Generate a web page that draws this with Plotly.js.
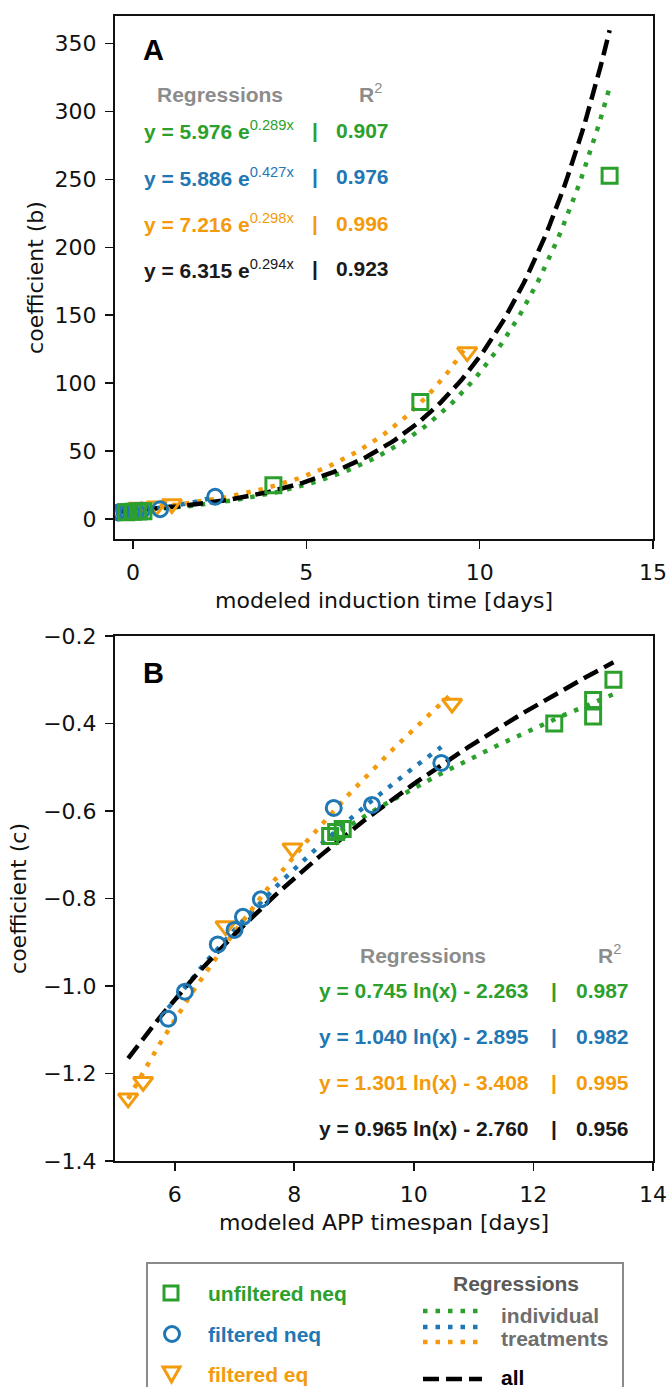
<!DOCTYPE html>
<html><head><meta charset="utf-8">
<script src="https://cdn.plot.ly/plotly-3.0.1.min.js"></script>
<style>html,body{margin:0;padding:0;background:#fff}</style>
</head><body><div id="chart" style="width:671px;height:1387px"></div>
<script>
// ---------- data ----------
const seriesNames = ['unfiltered neq', 'filtered neq', 'filtered eq'];
const seriesColors = ['#2ca02c', '#1f77b4', '#f39b0c'];
const allColor = '#1a1a1a';

// Panel A: coefficient (b) vs modeled induction time [days]
const A_unfiltNeq_x = [-0.2, 0.0, 0.15, 0.3, 4.05, 8.29, 13.75];
const A_unfiltNeq_y = [5.0, 5.3, 5.5, 5.7, 24.8, 86.1, 252.7];
const A_filtNeq_x = [-0.42, -0.35, -0.25, -0.15, -0.05, 0.1, 0.25, 0.78, 2.37];
const A_filtNeq_y = [4.8, 5.0, 5.1, 5.3, 5.5, 5.9, 6.2, 7.2, 16.4];
const A_filtEq_x = [-0.3, 0.15, 0.68, 1.12, 9.64];
const A_filtEq_y = [6.5, 8.5, 9.5, 11.0, 122.9];

// Panel B: coefficient (c) vs modeled APP timespan [days]
const B_unfiltNeq_x = [8.6, 8.7, 8.81, 12.35, 13.0, 13.0, 13.34];
const B_unfiltNeq_y = [-0.657, -0.648, -0.641, -0.400, -0.384, -0.346, -0.300];
const B_filtNeq_x = [5.89, 6.17, 6.72, 7.0, 7.14, 7.44, 8.66, 9.30, 10.46];
const B_filtNeq_y = [-1.075, -1.013, -0.905, -0.872, -0.842, -0.802, -0.593, -0.586, -0.490];
const B_filtEq_x = [5.22, 5.47, 6.85, 7.97, 10.64];
const B_filtEq_y = [-1.257, -1.219, -0.863, -0.685, -0.354];

// Regressions (unfiltered neq, filtered neq, filtered eq, all)
const A_fit_a = [5.976, 5.886, 7.216, 6.315];   // y = a e^(b x)
const A_fit_b = [0.289, 0.427, 0.298, 0.294];
const A_fit_r2 = ['0.907', '0.976', '0.996', '0.923'];
const B_fit_a = [0.745, 1.040, 1.301, 0.965];   // y = a ln(x) + b
const B_fit_b = [-2.263, -2.895, -3.408, -2.760];
const B_fit_r2 = ['0.987', '0.982', '0.995', '0.956'];

// Axis ticks
const A_xticks = [0, 5, 10, 15];
const A_yticks = [0, 50, 100, 150, 200, 250, 300, 350];
const B_xticks = [6, 8, 10, 12, 14];
const B_yticks = [-1.4, -1.2, -1.0, -0.8, -0.6, -0.4, -0.2];
const B_yticktext = ['\u22121.4', '\u22121.2', '\u22121.0', '\u22120.8', '\u22120.6', '\u22120.4', '\u22120.2'];

// ---------- build ----------
const W = 671, H = 1387, ML = 115, MR = 18;
const px = x => (x - ML) / (W - ML - MR);
const py = y => 1 - y / H;

const A_sets = [[A_unfiltNeq_x, A_unfiltNeq_y], [A_filtNeq_x, A_filtNeq_y], [A_filtEq_x, A_filtEq_y]];
const B_sets = [[B_unfiltNeq_x, B_unfiltNeq_y], [B_filtNeq_x, B_filtNeq_y], [B_filtEq_x, B_filtEq_y]];
const symbols = ['square-open', 'circle-open', 'triangle-down-open'];
const sizes = [15, 15, 17];

function grid(lo, hi, n) { const o = []; for (let i = 0; i <= n; i++) o.push(lo + (hi - lo) * i / n); return o; }
const expModel = (a, b) => x => a * Math.exp(b * x);
const lnModel = (a, b) => x => a * Math.log(x) + b;

const DOT = '4.5px,8px', DASH = '16px,7px';
const traces = [];
function addPanel(sets, fa, fb, model, xa, ya) {
  let allx = [];
  sets.forEach(s => allx = allx.concat(s[0]));
  // dotted individual regressions
  sets.forEach((s, i) => {
    const xs = grid(Math.min(...s[0]), Math.max(...s[0]), 120);
    const f = model(fa[i], fb[i]);
    traces.push({x: xs, y: xs.map(f), xaxis: xa, yaxis: ya, mode: 'lines', showlegend: false, hoverinfo: 'skip',
      line: {color: seriesColors[i], width: 4.5, dash: DOT}});
  });
  // dashed overall regression
  const xs = grid(Math.min(...allx), Math.max(...allx), 160);
  const f = model(fa[3], fb[3]);
  traces.push({x: xs, y: xs.map(f), xaxis: xa, yaxis: ya, mode: 'lines', showlegend: false, hoverinfo: 'skip',
    line: {color: '#000', width: 4.5, dash: DASH}});
  // markers (filtered eq underneath, unfiltered neq on top)
  [2, 1, 0].forEach(i => {
    const s = sets[i];
    traces.push({x: s[0], y: s[1], xaxis: xa, yaxis: ya, mode: 'markers', name: seriesNames[i], showlegend: false,
      marker: {symbol: symbols[i], size: sizes[i], color: seriesColors[i], line: {width: 3, color: seriesColors[i]}}});
  });
}
addPanel(A_sets, A_fit_a, A_fit_b, expModel, 'x', 'y');
addPanel(B_sets, B_fit_a, B_fit_b, lnModel, 'x2', 'y2');

const tickFont = {family: 'DejaVu Sans', size: 22, color: '#111'};
const axBase = {showgrid: false, zeroline: false, showline: true, mirror: true, linecolor: '#111', linewidth: 2,
  ticks: 'outside', ticklen: 8, tickwidth: 1.6, tickcolor: '#111', tickfont: tickFont, tickmode: 'array'};

const ann = [];
const bold = 'Liberation Sans';
function txt(text, x, y, color, size, xanchor) {
  ann.push({text: text, x: px(x), y: py(y), xref: 'paper', yref: 'paper', showarrow: false,
    xanchor: xanchor || 'center', yanchor: 'middle', font: {family: bold, size: size || 21, color: color}});
}
const rowColors = seriesColors.concat([allColor]);
const gray = '#8c8c8c';
// Panel A text
txt('<b>A</b>', 153, 50, '#000', 29);
txt('<b>Regressions</b>', 220, 94, gray);
txt('<b>R</b><sup>2</sup>', 370, 93, gray);
const A_rows = [130, 177, 223, 269];
for (let i = 0; i < 4; i++) {
  txt('<b>y = ' + A_fit_a[i].toFixed(3) + ' e</b><sup>' + A_fit_b[i].toFixed(3) + 'x</sup>', 142, A_rows[i], rowColors[i], 21, 'left');
  txt('<b>|</b>', 315, A_rows[i], rowColors[i]);
  txt('<b>' + A_fit_r2[i] + '</b>', 362, A_rows[i], rowColors[i]);
}
// Panel B text
txt('<b>B</b>', 153, 673, '#000', 29);
txt('<b>Regressions</b>', 423, 955, gray);
txt('<b>R</b><sup>2</sup>', 609, 954, gray);
const B_rows = [990, 1036, 1082, 1128];
for (let i = 0; i < 4; i++) {
  const b = B_fit_b[i];
  txt('<b>y = ' + B_fit_a[i].toFixed(3) + ' ln(x) ' + (b < 0 ? '- ' : '+ ') + Math.abs(b).toFixed(3) + '</b>', 317, B_rows[i], rowColors[i], 21, 'left');
  txt('<b>|</b>', 554, B_rows[i], rowColors[i]);
  txt('<b>' + B_fit_r2[i] + '</b>', 602, B_rows[i], rowColors[i]);
}
// Legend
const legendY = [1293, 1334, 1374];
seriesNames.forEach((n, i) => txt('<b>' + n + '</b>', 206, legendY[i], seriesColors[i], 21, 'left'));
txt('<b>Regressions</b>', 516, 1283, '#5a5a5a');
txt('<b>individual</b>', 499, 1315, '#6e6e6e', 21, 'left');
txt('<b>treatments</b>', 499, 1338, '#6e6e6e', 21, 'left');
txt('<b>all</b>', 499, 1377, '#000', 21, 'left');

const shapes = [];
const P = (x, y) => px(x) + ',' + py(y);
shapes.push({type: 'rect', xref: 'paper', yref: 'paper', x0: px(147), x1: px(623), y0: py(1263), y1: py(1400),
  line: {color: '#8a8a8a', width: 2}, fillcolor: 'rgba(0,0,0,0)'});
// legend marker glyphs
shapes.push({type: 'rect', xref: 'paper', yref: 'paper', x0: px(164), x1: px(178), y0: py(1286), y1: py(1300),
  line: {color: seriesColors[0], width: 3}});
shapes.push({type: 'circle', xref: 'paper', yref: 'paper', x0: px(164.5), x1: px(179.5), y0: py(1326.5), y1: py(1341.5),
  line: {color: seriesColors[1], width: 3}});
shapes.push({type: 'path', xref: 'paper', yref: 'paper', path: 'M' + P(163, 1367) + 'L' + P(180, 1367) + 'L' + P(171.5, 1382) + 'Z',
  line: {color: seriesColors[2], width: 3}});
const legLineY = [1311, 1327, 1342];
legLineY.forEach((y, i) => shapes.push({type: 'line', xref: 'paper', yref: 'paper', x0: px(423), x1: px(481), y0: py(y), y1: py(y),
  line: {color: seriesColors[i], width: 4.5, dash: DOT}}));
shapes.push({type: 'line', xref: 'paper', yref: 'paper', x0: px(423), x1: px(482), y0: py(1379), y1: py(1379),
  line: {color: '#000', width: 4.5, dash: DASH}});

const titleFont = {family: 'DejaVu Sans', size: 22, color: '#111'};
const layout = {
  width: W, height: H, margin: {l: ML, r: MR, t: 0, b: 0},
  paper_bgcolor: '#fff', plot_bgcolor: '#fff', showlegend: false,
  xaxis: Object.assign({}, axBase, {domain: [0, 1], range: [-0.52, 15.002], tickvals: A_xticks, anchor: 'y',
    ticklabelstandoff: 5, title: {text: 'modeled induction time [days]', font: titleFont, standoff: 8}}),
  yaxis: Object.assign({}, axBase, {domain: [py(539), py(16)], range: [-14.7, 370.3], tickvals: A_yticks, anchor: 'x',
    ticklabelstandoff: 4, title: {text: 'coefficient (b)', font: titleFont, standoff: 5}}),
  xaxis2: Object.assign({}, axBase, {domain: [0, 1], range: [5, 14.002], tickvals: B_xticks, anchor: 'y2',
    ticklabelstandoff: 5, title: {text: 'modeled APP timespan [days]', font: titleFont, standoff: 8}}),
  yaxis2: Object.assign({}, axBase, {domain: [py(1161), py(636)], range: [-1.4003, -0.1997], tickvals: B_yticks, ticktext: B_yticktext, anchor: 'x2',
    ticklabelstandoff: 4, title: {text: 'coefficient (c)', font: titleFont, standoff: 10}}),
  annotations: ann, shapes: shapes
};
Plotly.newPlot('chart', traces, layout, {staticPlot: true, displayModeBar: false});
</script></body></html>
